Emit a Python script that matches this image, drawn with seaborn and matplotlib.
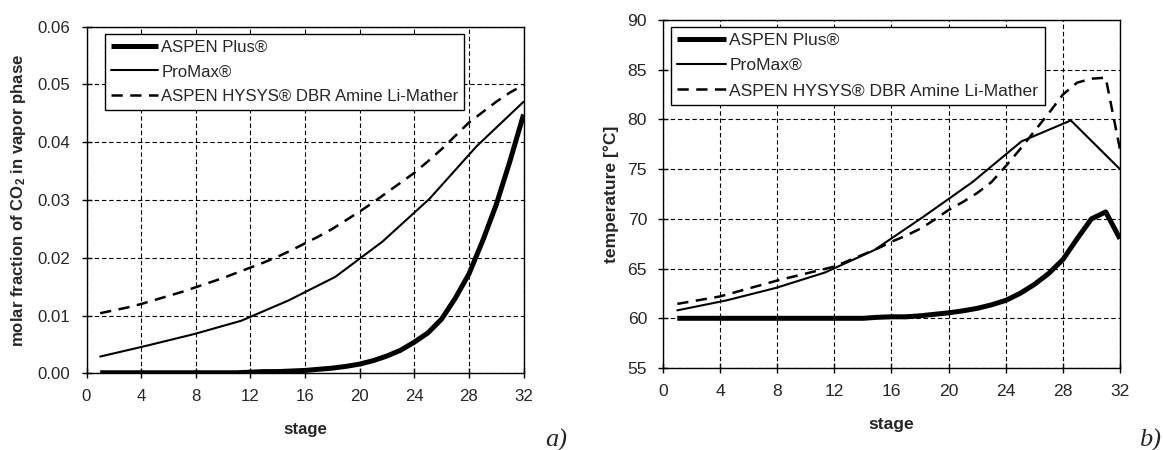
import numpy as np
import pandas as pd
import matplotlib
matplotlib.use("Agg")
import matplotlib.pyplot as plt
import seaborn as sns

# ---------------- data ----------------
stages = list(range(1, 33))
promax_stages = [1, 4.44, 7.89, 11.33, 14.78, 18.22, 21.67, 25.11, 28.56, 32]

co2_aspen_plus = [0.0001, 0.0001, 0.0001, 0.0001, 0.0001, 0.0001, 0.0001, 0.0001,
                  0.0001, 0.0001, 0.0001, 0.0002, 0.0003, 0.0003, 0.0004, 0.0005,
                  0.0007, 0.0009, 0.0012, 0.0016, 0.0022, 0.0030, 0.0040, 0.0054,
                  0.0070, 0.0094, 0.0130, 0.0172, 0.0229, 0.0292, 0.0367, 0.0448]
co2_promax = [0.0029, 0.0048, 0.0068, 0.0091, 0.0126, 0.0167, 0.0228, 0.0302, 0.0393, 0.0470]
co2_hysys = [0.0104, 0.0109, 0.0114, 0.0120, 0.0127, 0.0134, 0.0141, 0.0149,
             0.0157, 0.0165, 0.0174, 0.0183, 0.0192, 0.0202, 0.0213, 0.0225,
             0.0237, 0.0250, 0.0265, 0.0280, 0.0296, 0.0313, 0.0330, 0.0347,
             0.0367, 0.0388, 0.0411, 0.0434, 0.0452, 0.0470, 0.0486, 0.0499]

temp_aspen_plus = [60.0, 60.0, 60.0, 60.0, 60.0, 60.0, 60.0, 60.0, 60.0, 60.0,
                   60.0, 60.0, 60.0, 60.0, 60.1, 60.15, 60.15, 60.25, 60.4, 60.55,
                   60.75, 61.0, 61.35, 61.8, 62.5, 63.4, 64.5, 65.9, 68.0, 70.0,
                   70.7, 68.0]
temp_promax = [60.8, 61.8, 63.05, 64.6, 66.85, 70.2, 73.7, 77.8, 79.9, 75.0]
temp_hysys = [61.45, 61.7, 61.95, 62.2, 62.6, 63.0, 63.4, 63.8, 64.15, 64.5,
              64.85, 65.2, 65.8, 66.4, 67.0, 67.7, 68.3, 69.0, 69.9, 70.9,
              71.7, 72.6, 73.7, 75.3, 77.0, 78.8, 80.6, 82.5, 83.7, 84.1,
              84.2, 77.0]

labels = ["ASPEN Plus®", "ProMax®", "ASPEN HYSYS® DBR Amine Li-Mather"]
xticks = list(range(0, 33, 4))
co2_ticks = [0.00, 0.01, 0.02, 0.03, 0.04, 0.05, 0.06]
temp_ticks = [55, 60, 65, 70, 75, 80, 85, 90]

# ---------------- style ----------------
sns.set_style("white")
plt.rcParams["font.family"] = ["Liberation Sans", "DejaVu Sans"]
plt.rcParams["mathtext.fontset"] = "custom"
plt.rcParams["mathtext.rm"] = "Liberation Sans"
plt.rcParams["mathtext.bf"] = "Liberation Sans:bold"
plt.rcParams["mathtext.it"] = "Liberation Sans:italic"

FS_L = 12.1
FS_R = 12.6

fig = plt.figure(figsize=(11.63, 4.5), dpi=100)
axL = fig.add_axes([0.0744, 0.1704, 0.3758, 0.7704])
axR = fig.add_axes([0.5701, 0.1822, 0.3929, 0.7733])


def draw(ax, y_plus, y_promax, y_hysys, fs):
    sns.lineplot(x=stages, y=y_plus, ax=ax, color="black", linewidth=3.6,
                 label=labels[0], solid_capstyle="butt")
    sns.lineplot(x=promax_stages, y=y_promax, ax=ax, color="black", linewidth=1.5,
                 label=labels[1])
    sns.lineplot(x=stages, y=y_hysys, ax=ax, color="black", linewidth=1.8,
                 label=labels[2])
    ln = ax.get_lines()[-1]
    ln.set_linestyle((0, (4.5, 3)))
    ax.grid(True, color="black", linestyle=(0, (4, 2.5)), linewidth=0.8)
    ax.set_axisbelow(True)
    for s in ax.spines.values():
        s.set_visible(True)
        s.set_color("black")
        s.set_linewidth(1.0)
    ax.tick_params(axis="both", direction="inout", length=7, width=1,
                   color="black", labelsize=fs, pad=8, bottom=True, left=True)
    ax.set_xlim(0, 32)
    ax.set_xticks(xticks)
    ax.set_xlabel("stage", fontsize=fs, fontweight="bold", labelpad=13)


draw(axL, co2_aspen_plus, co2_promax, co2_hysys, FS_L)
axL.set_ylim(0, 0.06)
axL.set_yticks(co2_ticks)
axL.set_yticklabels([f"{v:.2f}" for v in co2_ticks])
axL.set_ylabel(r"molar fraction of CO$_\mathbf{2}$ in vapor phase",
               fontsize=FS_L, fontweight="bold", labelpad=7)

draw(axR, temp_aspen_plus, temp_promax, temp_hysys, FS_R)
axR.set_ylim(55, 90)
axR.set_yticks(temp_ticks)
axR.set_ylabel("temperature [°C]", fontsize=FS_R, fontweight="bold", labelpad=6)


def legend(ax, bbox, fs):
    leg = ax.legend(loc="upper left", bbox_to_anchor=bbox, fontsize=fs,
                    frameon=True, fancybox=False, edgecolor="black",
                    framealpha=1, handlelength=2.8, handletextpad=0.2,
                    labelspacing=0.57, borderpad=0.35, borderaxespad=0)
    leg.get_frame().set_linewidth(1.0)
    return leg


legend(axL, (0.042, 0.979), FS_L)
legend(axR, (0.017, 0.981), FS_R)

fig.text(556 / 1163, 1 - 440 / 450, "a)", fontsize=19, style="italic",
         family="Liberation Serif", ha="center", va="center")
fig.text(1150 / 1163, 1 - 440 / 450, "b)", fontsize=19, style="italic",
         family="Liberation Serif", ha="center", va="center")

fig.savefig("out.png", dpi=100, facecolor="white")
